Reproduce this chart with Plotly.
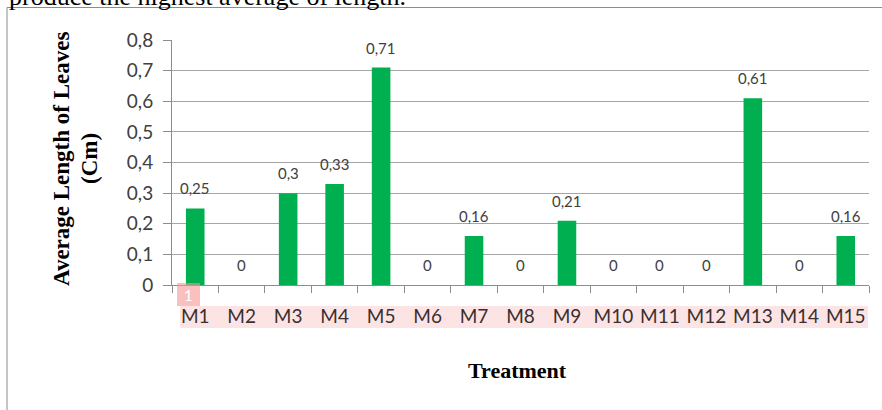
import plotly.graph_objects as go

categories = ["M1", "M2", "M3", "M4", "M5", "M6", "M7", "M8", "M9", "M10",
              "M11", "M12", "M13", "M14", "M15"]
values = [0.25, 0, 0.3, 0.33, 0.71, 0, 0.16, 0, 0.21, 0, 0, 0, 0.61, 0, 0.16]
value_labels = ["0,25", "0", "0,3", "0,33", "0,71", "0", "0,16", "0", "0,21",
                "0", "0", "0", "0,61", "0", "0,16"]
y_tickvals = [0, 0.1, 0.2, 0.3, 0.4, 0.5, 0.6, 0.7, 0.8]
y_ticktext = ["0", "0,1", "0,2", "0,3", "0,4", "0,5", "0,6", "0,7", "0,8"]

W, H = 882, 410
L, R, T, B = 172, 13, 40, 125
PW, PH = W - L - R, H - T - B


def px(x):
    return (x - L) / PW


def py(y):
    return (H - B - y) / PH


LABEL_FONT = "Lato, Calibri, Carlito, sans-serif"
SERIF = "Liberation Serif, Times New Roman, serif"

fig = go.Figure()
fig.add_trace(go.Bar(
    x=categories, y=values,
    marker=dict(color="#00b050", line=dict(width=0)),
    hoverinfo="skip",
))

annotations = []
for c, v, t in zip(categories, values, value_labels):
    annotations.append(dict(
        x=c, y=v, xref="x", yref="y", text=t, showarrow=False,
        yanchor="middle", yshift=20,
        font=dict(family=LABEL_FONT, size=15, color="#404040"),
    ))

annotations += [
    dict(x=px(61), y=py(159), xref="paper", yref="paper",
         text="<b>Average Length of Leaves</b>", textangle=-90, showarrow=False,
         xanchor="center", yanchor="middle",
         font=dict(family=SERIF, size=23, color="#000000")),
    dict(x=px(89), y=py(159), xref="paper", yref="paper",
         text="<b>(Cm)</b>", textangle=-90, showarrow=False,
         xanchor="center", yanchor="middle",
         font=dict(family=SERIF, size=23, color="#000000")),
    dict(x=px(517), y=py(370), xref="paper", yref="paper",
         text="<b>Treatment</b>", showarrow=False,
         xanchor="center", yanchor="middle",
         font=dict(family=SERIF, size=22, color="#000000")),
    dict(x=px(7), y=py(-3.5), xref="paper", yref="paper",
         text="produce the highest average of length.", showarrow=False,
         xanchor="left", yanchor="middle",
         font=dict(family=SERIF, size=26, color="#000000")),
]

shapes = [
    # outer chart border
    dict(type="rect", xref="paper", yref="paper",
         x0=px(7), x1=px(W + 20), y0=py(H + 20), y1=py(7.5),
         line=dict(color="#8c8c8c", width=1), fillcolor="rgba(0,0,0,0)",
         layer="below"),
    # pink highlight band behind tick labels
    dict(type="rect", xref="paper", yref="paper",
         x0=px(180), x1=px(868), y0=py(328), y1=py(306),
         line=dict(width=0), fillcolor="rgba(252,205,205,0.55)", layer="below"),
    # pink badge
    dict(type="rect", xref="paper", yref="paper",
         x0=px(177), x1=px(200), y0=py(306), y1=py(283),
         line=dict(width=0),
         fillcolor="rgba(247,150,150,0.6)", layer="above"),
]

fig.update_layout(
    width=W, height=H,
    margin=dict(l=L, r=R, t=T, b=B, pad=0),
    paper_bgcolor="#ffffff", plot_bgcolor="#ffffff",
    bargap=0.6, showlegend=False,
    annotations=annotations, shapes=shapes,
    xaxis=dict(
        type="category", tickson="boundaries", ticks="outside", ticklen=7,
        tickcolor="#8c8c8c", showline=True, linecolor="#8c8c8c", linewidth=1,
        showgrid=False, zeroline=False, ticklabelstandoff=14,
        tickangle=0, automargin=False,
        tickfont=dict(family=LABEL_FONT, size=19, color="#3a2f2f"),
        fixedrange=True,
    ),
    yaxis=dict(
        range=[0, 0.8], tickvals=y_tickvals, ticktext=y_ticktext,
        ticks="outside", ticklen=8, tickcolor="#8c8c8c",
        showline=True, linecolor="#8c8c8c", linewidth=1,
        showgrid=True, gridcolor="#a6a6a6", gridwidth=1, zeroline=False,
        ticklabelstandoff=6, automargin=False,
        tickfont=dict(family=LABEL_FONT, size=19, color="#404040"),
        fixedrange=True,
    ),
)

fig.add_annotation(x=px(188.5), y=py(294.5), xref="paper", yref="paper",
                   text="1", showarrow=False, xanchor="center", yanchor="middle",
                   font=dict(family=LABEL_FONT, size=15, color="#ffffff"))

fig.write_html("out.html", config={"displayModeBar": False},
               post_script="document.body.style.margin='0';"
                           "document.body.style.overflow='hidden';")
